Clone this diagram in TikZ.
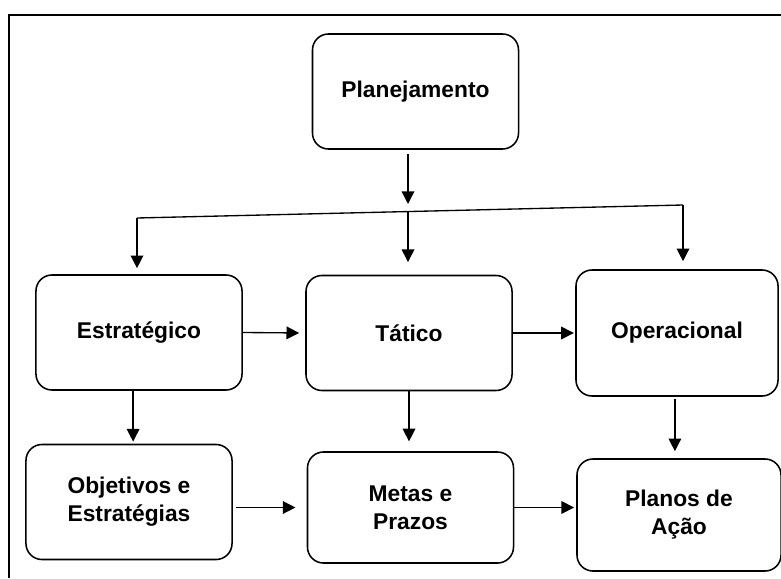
\documentclass[tikz,border=0pt]{standalone}
\usepackage{fontspec}
\setmainfont{Liberation Sans}
\usetikzlibrary{arrows.meta, positioning, calc}

\begin{document}
\begin{tikzpicture}[
        x=0.025cm, y=-0.025cm, >={Triangle[length=9pt, width=9pt]},
        block/.style={rectangle, draw, line width=1.1pt, rounded corners=0.4cm, align=center, inner sep=0pt,
            minimum width=5.15cm, minimum height=2.875cm, font=\bfseries\fontsize{16.2}{20}\selectfont},
        line/.style={draw, line width=0.95pt, ->},
    ]
    \useasboundingbox (0,0) rectangle (781,578);
    \draw [line width=1.5pt] (781,15) -- (9,15) -- (9,578);

    % Nodes
    \node [block] (plan) at (415.5,91.5) {Planejamento};
    \node [block] (estr) at (139,332.5) {Estrat\'egico};
    \node [block] (tat) at (409,333) {T\'atico};
    \node [block, minimum width=5.05cm, minimum height=3.15cm] (oper) at (677,333) {Operacional};
    \node [block] (obj) at (129,502) {Objetivos e\\Estrat\'egias};
    \node [block, minimum height=2.775cm] (metas) at (410.5,507.5) {Metas e\\Prazos};
    \node [block, minimum width=5.1cm, minimum height=2.8cm] (planos) at (679,515) {Planos de\\A\c{c}\~ao};

    % Branch points
    \coordinate (tipP) at (408,204);
    \coordinate (brL) at (137,218);
    \coordinate (brM) at (408,211.5);
    \coordinate (brR) at (683,205);

    % Arrows
    \path [line, shorten <=3pt] (plan.south -| tipP) -- (tipP);
    \draw [line width=0.95pt] (brL) -- (brR);
    \path [line, shorten >=4.3pt] (brL) -- (brL |- estr.north);
    \path [line, shorten >=9pt] (brM) -- (brM |- tat.north);
    \path [line, shorten >=5.7pt] (brR) -- (brR |- oper.north);
    \path [line, shorten >=4.3pt] (estr.east) -- (tat.west);
    \path [line, shorten >=1pt] (tat.east) -- (tat.east -| oper.west);
    \path [line, shorten >=1.5pt] ([xshift=-4.2pt]estr.south) -- ([xshift=-4.2pt]estr.south |- obj.north);
    \path [line, shorten >=7pt] (tat.south) -- (tat.south |- metas.north);
    \path [line, shorten <=1.5pt, shorten >=5pt] ([xshift=-1.5pt]oper.south) -- ([xshift=-1.5pt]oper.south |- planos.north);
    \path [line, shorten <=2pt, shorten >=8pt] (obj.east |- metas.west) -- (metas.west);
    \path [line, shorten >=1.5pt] (metas.east) -- (metas.east -| planos.west);

\end{tikzpicture}
\end{document}
